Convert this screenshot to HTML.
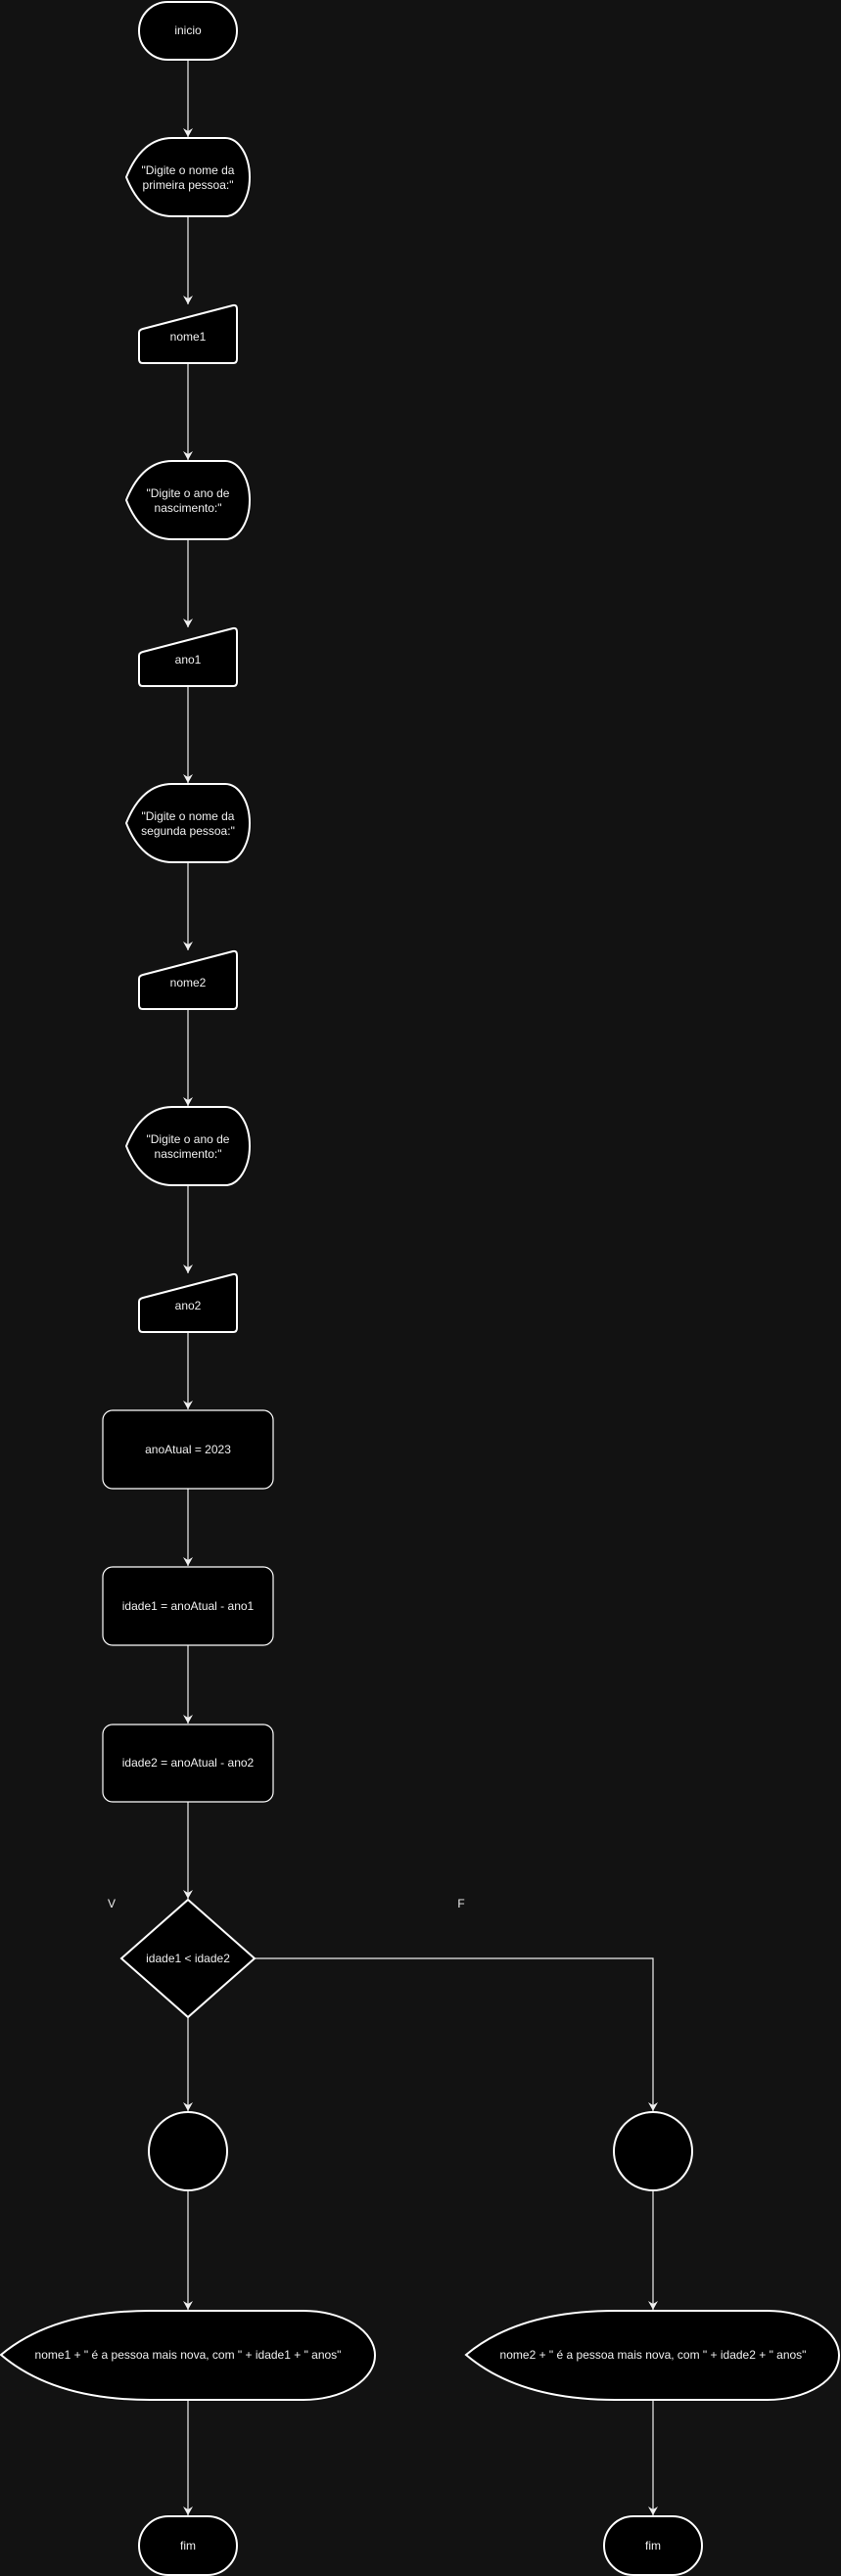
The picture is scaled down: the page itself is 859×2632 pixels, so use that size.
<!DOCTYPE html>
<html><head><meta charset="utf-8"><style>
html,body{margin:0;padding:0;background:#121212;}
svg{display:block}
text{font-family:"Liberation Sans",Arial,sans-serif;fill:#f0f0f0;text-anchor:middle;dominant-baseline:central;}
</style></head><body>
<svg width="859" height="2632" viewBox="0 0 859 2632" xmlns="http://www.w3.org/2000/svg">
<defs><marker id="a" markerWidth="10" markerHeight="10" refX="5" refY="9" orient="auto" markerUnits="userSpaceOnUse"><path d="M0.5,2 L5,9 L9.5,2 L5,4.5 Z" fill="#f0f0f0"/></marker>
<marker id="ad" markerWidth="12" markerHeight="12" refX="6" refY="11" orient="0" markerUnits="userSpaceOnUse"><path d="M1,2 L6,11 L11,2 L6,5 Z" fill="#f0f0f0"/></marker></defs>
<rect width="859" height="2632" fill="#121212"/>
<g stroke="#f0f0f0" stroke-width="1.2" fill="none">
<line x1="192" y1="61" x2="192" y2="140" marker-end="url(#ad)"/>
<line x1="192" y1="222" x2="192" y2="311" marker-end="url(#ad)"/>
<line x1="192" y1="371" x2="192" y2="470" marker-end="url(#ad)"/>
<line x1="192" y1="552" x2="192" y2="641" marker-end="url(#ad)"/>
<line x1="192" y1="701" x2="192" y2="800" marker-end="url(#ad)"/>
<line x1="192" y1="882" x2="192" y2="971" marker-end="url(#ad)"/>
<line x1="192" y1="1031" x2="192" y2="1130" marker-end="url(#ad)"/>
<line x1="192" y1="1212" x2="192" y2="1301" marker-end="url(#ad)"/>
<line x1="192" y1="1361" x2="192" y2="1440" marker-end="url(#ad)"/>
<line x1="192" y1="1521" x2="192" y2="1600" marker-end="url(#ad)"/>
<line x1="192" y1="1681" x2="192" y2="1761" marker-end="url(#ad)"/>
<line x1="192" y1="1841" x2="192" y2="1940" marker-end="url(#ad)"/>
<line x1="192" y1="2061" x2="192" y2="2157" marker-end="url(#ad)"/>
<polyline points="260,2001 667,2001 667,2157" marker-end="url(#ad)"/>
<line x1="192" y1="2238" x2="192" y2="2360" marker-end="url(#ad)"/>
<line x1="667" y1="2238" x2="667" y2="2360" marker-end="url(#ad)"/>
<line x1="192" y1="2452" x2="192" y2="2570" marker-end="url(#ad)"/>
<line x1="667" y1="2452" x2="667" y2="2570" marker-end="url(#ad)"/>
</g>
<g stroke="#ffffff" stroke-width="2" fill="#000">
<rect x="142" y="2" width="100" height="59" rx="29.5"/>
<!-- display shapes -->
<path d="M129,181 Q145,141 176,141 L230,141 A25,40 0 0 1 230,221 L176,221 Q145,221 129,181 Z"/>
<path d="M129,511 Q145,471 176,471 L230,471 A25,40 0 0 1 230,551 L176,551 Q145,551 129,511 Z"/>
<path d="M129,841 Q145,801 176,801 L230,801 A25,40 0 0 1 230,881 L176,881 Q145,881 129,841 Z"/>
<path d="M129,1171 Q145,1131 176,1131 L230,1131 A25,40 0 0 1 230,1211 L176,1211 Q145,1211 129,1171 Z"/>
<!-- manual inputs -->
<path d="M146,336 L238,312 Q242,311 242,316 L242,367 Q242,371 238,371 L146,371 Q142,371 142,367 L142,340 Q142,337 146,336 Z"/>
<path d="M146,666 L238,642 Q242,641 242,646 L242,697 Q242,701 238,701 L146,701 Q142,701 142,697 L142,670 Q142,667 146,666 Z"/>
<path d="M146,996 L238,972 Q242,971 242,976 L242,1027 Q242,1031 238,1031 L146,1031 Q142,1031 142,1027 L142,1000 Q142,997 146,996 Z"/>
<path d="M146,1326 L238,1302 Q242,1301 242,1306 L242,1357 Q242,1361 238,1361 L146,1361 Q142,1361 142,1357 L142,1330 Q142,1327 146,1326 Z"/>
</g>
<g stroke="#ffffff" stroke-width="1.2" fill="#000">
<rect x="105" y="1441" width="174" height="80" rx="10"/>
<rect x="105" y="1601" width="174" height="80" rx="10"/>
<rect x="105" y="1762" width="174" height="79" rx="10"/>
</g>
<g stroke="#ffffff" stroke-width="2" fill="#000">
<polygon points="192,1941 260,2001 192,2061 124,2001"/>
<circle cx="192" cy="2198" r="40"/>
<circle cx="667" cy="2198" r="40"/>
<path d="M1,2406 Q55,2361 153,2361 L310,2361 A73,45.5 0 0 1 310,2452 L153,2452 Q55,2452 1,2406 Z"/>
<path d="M476,2406 Q530,2361 628,2361 L784,2361 A73,45.5 0 0 1 784,2452 L628,2452 Q530,2452 476,2406 Z"/>
<rect x="142" y="2571" width="100" height="60" rx="30" ry="30"/>
<rect x="617" y="2571" width="100" height="60" rx="30" ry="30"/>
</g>
<g font-size="12">
<text x="192" y="31">inicio</text>
<text x="192" y="174">"Digite o nome da</text><text x="192" y="189">primeira pessoa:"</text>
<text x="192" y="344">nome1</text>
<text x="192" y="504">"Digite o ano de</text><text x="192" y="519">nascimento:"</text>
<text x="192" y="674">ano1</text>
<text x="192" y="834">"Digite o nome da</text><text x="192" y="849">segunda pessoa:"</text>
<text x="192" y="1004">nome2</text>
<text x="192" y="1164">"Digite o ano de</text><text x="192" y="1179">nascimento:"</text>
<text x="192" y="1334">ano2</text>
<text x="192" y="1481">anoAtual = 2023</text>
<text x="192" y="1641">idade1 = anoAtual - ano1</text>
<text x="192" y="1801">idade2 = anoAtual - ano2</text>
<text x="192" y="2001">idade1 &lt; idade2</text>
<text x="114" y="1945">V</text>
<text x="471" y="1945">F</text>
<text x="192" y="2406">nome1 + " é a pessoa mais nova, com " + idade1 + " anos"</text>
<text x="667" y="2406">nome2 + " é a pessoa mais nova, com " + idade2 + " anos"</text>
<text x="192" y="2601">fim</text>
<text x="667" y="2601">fim</text>
</g>
</svg>
</body></html>
